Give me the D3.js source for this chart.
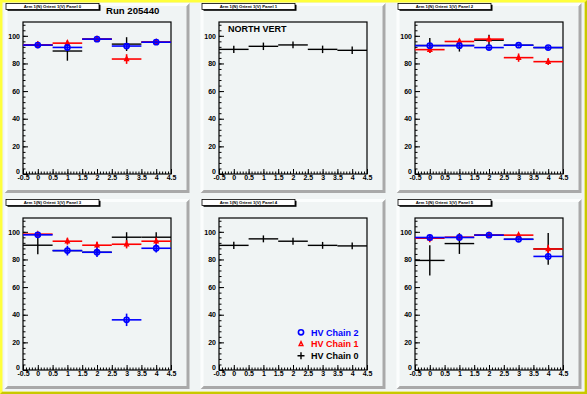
<!DOCTYPE html>
<html><head><meta charset="utf-8">
<script src="https://cdn.jsdelivr.net/npm/d3@7"></script>
<style>body{margin:0;background:#fff}svg{display:block}text{font-family:"Liberation Sans",Arial,sans-serif}</style>
</head><body>
<script>
// ---- data ----
const bins = [0, 1, 2, 3, 4];
const panelTitles = ["Arm 1(N) Orient 1(V) Panel 0","Arm 1(N) Orient 1(V) Panel 1","Arm 1(N) Orient 1(V) Panel 2",
                     "Arm 1(N) Orient 1(V) Panel 3","Arm 1(N) Orient 1(V) Panel 4","Arm 1(N) Orient 1(V) Panel 5"];
const seriesNames = ["HV Chain 2", "HV Chain 1", "HV Chain 0"];
const yTicks = [0, 20, 40, 60, 80, 100];
const xTicks = [-0.5, 0, 0.5, 1, 1.5, 2, 2.5, 3, 3.5, 4, 4.5];
// chain 0 (black) per panel
const chain0Val = [[93.3,89.0,97.6,94.0,95.4],[90.2,92.4,93.4,90.2,89.5],[93.0,93.0,96.8,93.2,91.5],
                   [90.3,86.4,85.2,96.1,96.1],[90.2,94.9,93.2,90.2,89.8],[79.3,91.5,97.6,94.6,87.6]];
const chain0Err = [[0.8,7.0,0.8,5.0,0.8],[2.7,2.7,2.4,2.7,2.7],[5.5,4.4,4.0,0.8,0.8],
                   [6.5,2.0,2.0,3.6,3.6],[2.7,2.5,2.5,2.5,2.5],[11,7.5,0.8,0.8,11.5]];
// chain 1 (red) per panel (null = not drawn)
const chain1Val = [[93.5,94.7,97.6,83.2,95.5],null,[90.0,95.9,97.6,84.2,81.3],
                   [98.3,93.2,90.3,91.0,93.2],null,[95.4,96.1,97.6,97.6,87.6]];
const chain1Err = [[2.5,2.0,1.0,3.5,2.0],null,[2.5,2.0,2.0,3.0,2.5],
                   [1.0,2.5,2.5,3.0,2.5],null,[3.0,2.0,1.5,1.5,3.0]];
// chain 2 (blue) per panel
const chain2Val = [[93.3,91.6,97.6,92.6,95.4],null,[92.9,92.9,91.5,93.2,91.5],
                   [97.8,86.4,85.2,36.3,88.1],null,[95.9,95.9,97.6,94.6,82.2]];
const chain2Err = [[1.0,2.5,1.0,2.0,1.0],null,[1.0,1.0,1.0,1.0,1.0],
                   [1.0,3.5,3.5,4.5,3.0],null,[1.0,1.0,1.0,1.0,2.5]];
const panelLabels = ["Run 205440", "NORTH VERT", null, null, null, null];

// ---- layout ----
const W = 587, H = 394;
const padW = 185, padH = 190, padStepX = 196, padStepY = 196, pad0X = 4.5, pad0Y = 3;
const bg = "#f0f4f4";
const svg = d3.select("body").append("svg").attr("width", W).attr("height", H);

// canvas bevel
svg.append("rect").attr("width", W).attr("height", H).attr("fill", "#ffff3c");
svg.append("path").attr("d", `M${W},0 L${W},${H} L0,${H} L2.5,${H-2.5} L${W-2.5},${H-2.5} L${W-2.5},2.5 Z`).attr("fill", "#c8c800");
svg.append("rect").attr("x", 2.5).attr("y", 2.5).attr("width", W-5).attr("height", H-5).attr("fill", bg);

const x = d3.scaleLinear().domain([-0.5, 4.5]);
const y = d3.scaleLinear().domain([0, 110]);

function drawSeries(g, xs, ys, vals, errs, color, lw, marker) {
  if (!vals) return;
  const s = g.append("g");
  bins.forEach((b, i) => {
    const v = vals[i], e = errs[i];
    s.append("line").attr("x1", xs(b-0.5)).attr("x2", xs(b+0.5)).attr("y1", ys(v)).attr("y2", ys(v))
      .attr("stroke", color).attr("stroke-width", lw);
    s.append("line").attr("x1", xs(b)).attr("x2", xs(b)).attr("y1", ys(v-e)).attr("y2", ys(v+e))
      .attr("stroke", color).attr("stroke-width", lw);
    drawMarker(s, xs(b), ys(v), color, marker);
  });
}
function drawMarker(s, cx, cy, color, marker) {
  if (marker === "circle") {
    s.append("circle").attr("cx", cx).attr("cy", cy).attr("r", 2.6).attr("fill", "none")
      .attr("stroke", color).attr("stroke-width", 1.6);
  } else if (marker === "triangle") {
    s.append("path").attr("d", `M${cx},${cy-2.4} L${cx+1.9},${cy+1.6} L${cx-1.9},${cy+1.6} Z`)
      .attr("fill", "none").attr("stroke", color).attr("stroke-width", 1.4);
  } else if (marker === "plus") {
    s.append("path").attr("d", `M${cx-3.5},${cy} H${cx+3.5} M${cx},${cy-3.5} V${cy+3.5}`)
      .attr("stroke", color).attr("stroke-width", 1.4);
  }
}

for (let p = 0; p < 6; p++) {
  const col = p % 3, row = Math.floor(p / 3);
  const px = pad0X + col * padStepX, py = pad0Y + row * padStepY;
  const g = svg.append("g").attr("transform", `translate(${px},${py})`);
  // pad bevel
  g.append("rect").attr("width", padW).attr("height", padH).attr("fill", bg);
  g.append("path").attr("d", `M${padW},0 L${padW},${padH} L0,${padH} L3,${padH-3} L${padW-3},${padH-3} L${padW-3},3 Z`).attr("fill", "#a9a9a9");
  g.append("path").attr("d", `M0,0 L${padW},0 L${padW-3},3 L3,3 L3,${padH-3} L0,${padH} Z`).attr("fill", "#fbfdfd");

  const fx = 0.1 * padW, fy = 0.1 * padH, fw = 0.8 * padW, fh = 0.8 * padH;
  const xs = x.copy().range([fx, fx + fw]);
  const ys = y.copy().range([fy + fh, fy]);

  // frame
  g.append("rect").attr("x", fx).attr("y", fy).attr("width", fw).attr("height", fh)
    .attr("fill", "none").attr("stroke", "#000").attr("stroke-width", 1.2);

  // axes
  const yMinor = d3.range(0, 110, 4);
  g.append("g").attr("transform", `translate(${fx},0)`)
    .call(d3.axisLeft(ys).tickValues(yMinor).tickSize(-2.5).tickSizeOuter(0).tickFormat(""))
    .call(a => a.select(".domain").remove());
  g.append("g").attr("transform", `translate(${fx},0)`)
    .call(d3.axisLeft(ys).tickValues(yTicks).tickSize(-5).tickSizeOuter(0).tickPadding(3).tickFormat(d => String(d)))
    .call(a => a.select(".domain").remove())
    .call(a => a.selectAll("text").attr("font-size", 7).attr("font-weight", "bold").attr("font-family", "Liberation Sans, Arial").attr("fill", "#000"))
    .call(a => a.selectAll(".tick").filter(d => d === 0).select("text").attr("dy", "-0.05em"));
  const xMinor = d3.range(-0.5, 4.501, 0.1);
  g.append("g").attr("transform", `translate(0,${fy + fh})`)
    .call(d3.axisBottom(xs).tickValues(xMinor).tickSize(-2.5).tickSizeOuter(0).tickFormat(""))
    .call(a => a.select(".domain").remove());
  g.append("g").attr("transform", `translate(0,${fy + fh})`)
    .call(d3.axisBottom(xs).tickValues(xTicks).tickSize(-5).tickSizeOuter(0).tickPadding(1.5).tickFormat(d => String(d)))
    .call(a => a.select(".domain").remove())
    .call(a => a.selectAll("text").attr("font-size", 7).attr("font-weight", "bold").attr("font-family", "Liberation Sans, Arial").attr("fill", "#000"));
  g.selectAll(".tick line").attr("stroke", "#000").attr("stroke-width", 1);

  // data
  drawSeries(g, xs, ys, chain0Val[p], chain0Err[p], "#000", 1.4, null);
  drawSeries(g, xs, ys, chain1Val[p], chain1Err[p], "#ff0000", 1.6, "triangle");
  drawSeries(g, xs, ys, chain2Val[p], chain2Err[p], "#0000ff", 1.6, "circle");

  // title box
  g.append("rect").attr("x", 3).attr("y", 1.8).attr("width", 93).attr("height", 6).attr("fill", "#000");
  g.append("rect").attr("x", 1.5).attr("y", 0.5).attr("width", 93).attr("height", 6)
    .attr("fill", "#fff").attr("stroke", "#000").attr("stroke-width", 0.8);
  g.append("text").attr("x", 48).attr("y", 5.2).attr("text-anchor", "middle")
    .attr("font-size", 4.3).attr("font-weight", "bold").text(panelTitles[p]);

  if (p === 0) {
    g.append("text").attr("x", 101.5).attr("y", 11).attr("font-size", 9.6).attr("font-weight", "bold").text(panelLabels[p]);
  }
  if (p === 1) {
    g.append("text").attr("x", 27.5).attr("y", 28.5).attr("font-size", 9).attr("font-weight", "bold").text(panelLabels[p]);
  }
  if (p === 4) {
    const colors = ["#0000ff", "#ff0000", "#000"];
    const markers = ["circle", "triangle", "plus"];
    seriesNames.forEach((nm, i) => {
      const ly = 133.3 + i * 11.7;
      drawMarker(g, 100.5, ly, colors[i], markers[i]);
      g.append("text").attr("x", 110.5).attr("y", ly + 3.3).attr("font-size", 9).attr("font-weight", "bold")
        .attr("fill", colors[i]).text(nm);
    });
  }
}
</script>
</body></html>
